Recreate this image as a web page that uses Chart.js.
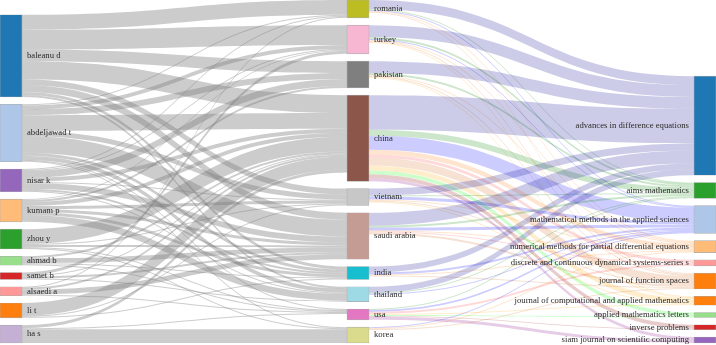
<!DOCTYPE html>
<html>
<head>
<meta charset="utf-8">
<script src="https://cdn.jsdelivr.net/npm/chart.js@4.4.1/dist/chart.umd.min.js"></script>
<style>
  html, body { margin: 0; padding: 0; background: #fff; }
  #wrap { width: 716px; height: 345px; }
</style>
</head>
<body>
<div id="wrap"><canvas id="sankey"></canvas></div>
<script>
// columns of the sankey
const authors = ['baleanu d', 'abdeljawad t', 'nisar k', 'kumam p', 'zhou y',
  'ahmad b', 'samet b', 'alsaedi a', 'li t', 'ha s'];
const countries = ['romania', 'turkey', 'pakistan', 'china', 'vietnam',
  'saudi arabia', 'india', 'thailand', 'usa', 'korea'];
const journals = ['advances in difference equations', 'aims mathematics',
  'mathematical methods in the applied sciences',
  'numerical methods for partial differential equations',
  'discrete and continuous dynamical systems-series s',
  'journal of function spaces', 'journal of computational and applied mathematics',
  'applied mathematics letters', 'inverse problems', 'siam journal on scientific computing'];

// author -> country (rows = authors, cols = countries)
const authorCountry = [
  [15, 20, 12, 18, 6,  7, 3, 2, 0, 0],
  [ 1,  4,  6, 16, 5, 17, 3, 4, 1, 1],
  [ 1,  1,  7,  4, 1,  6, 2, 1, 0, 0],
  [ 0,  1,  2,  4, 3,  3, 3, 7, 0, 0],
  [ 0,  0,  0, 15, 1,  2, 0, 0, 1, 1],
  [ 0,  0,  0,  2, 0,  5, 1, 0, 1, 0],
  [ 0,  3,  0,  1, 0,  2, 0, 1, 0, 0],
  [ 1,  0,  0,  2, 0,  5, 0, 0, 1, 0],
  [ 0,  0,  0, 13, 1,  0, 1, 0, 0, 0],
  [ 0,  0,  0,  3, 0,  0, 0, 0, 1, 14]
];

// country -> journal (rows = countries, cols = journals)
const countryJournal = [
  [ 9, 1,  1, 1, 0, 1, 0, 0, 0, 0],
  [12, 2,  1, 1, 0, 1, 1, 0, 0, 0],
  [12, 2,  0, 1, 0, 1, 1, 0, 0, 0],
  [35, 6, 14, 5, 3, 8, 5, 4, 4, 3],
  [ 7, 1,  3, 1, 0, 1, 1, 0, 0, 0],
  [13, 2,  3, 1, 1, 2, 0, 0, 0, 0],
  [ 6, 0,  2, 1, 0, 1, 0, 0, 0, 0],
  [ 6, 1,  1, 0, 0, 0, 0, 0, 0, 0],
  [ 0, 1,  2, 0, 2, 0, 1, 1, 1, 3],
  [ 0, 0,  1, 1, 0, 1, 0, 0, 0, 0]
];

const authorColors = ['#1f77b4', '#aec7e8', '#9467bd', '#ffbb78', '#2ca02c',
  '#98df8a', '#d62728', '#ff9896', '#ff7f0e', '#c5b0d5'];
const countryColors = ['#bcbd22', '#f7b6d2', '#7f7f7f', '#8c564b', '#c7c7c7',
  '#c49c94', '#17becf', '#9edae5', '#e377c2', '#dbdb8d'];
const journalColors = ['#1f77b4', '#2ca02c', '#aec7e8', '#ffbb78', '#ff9896',
  '#ff7f0e', '#ff7f0e', '#98df8a', '#d62728', '#9467bd'];
const journalLinkColors = ['rgba(0,0,139,0.2)', 'rgba(0,128,0,0.2)', 'rgba(0,0,255,0.2)',
  'rgba(255,127,14,0.2)', 'rgba(255,0,0,0.15)', 'rgba(210,105,30,0.2)',
  'rgba(255,165,0,0.2)', 'rgba(0,255,0,0.2)', 'rgba(139,0,0,0.2)', 'rgba(128,0,128,0.2)'];
const authorLinkColor = 'rgba(128,128,128,0.4)';

// --- layout (value units) ---
const GAP = 7.4;
const sum = a => a.reduce((s, v) => s + v, 0);
const authorVal = authorCountry.map(sum);
const countryIn = countries.map((_, j) => sum(authorCountry.map(r => r[j])));
const countryOut = countryJournal.map(sum);
const countryVal = countries.map((_, j) => Math.max(countryIn[j], countryOut[j]));
const journalVal = journals.map((_, k) => sum(countryJournal.map(r => r[k])));

const columns = [authorVal, countryVal, journalVal];
const totalH = Math.max(...columns.map(c => sum(c) + (c.length - 1) * GAP));

function stack(vals) {
  let y = totalH - (sum(vals) + (vals.length - 1) * GAP);
  return vals.map(v => {
    const n = { y0: y, y1: y + v };
    y += v + GAP;
    return n;
  });
}
const layout = columns.map(stack);
const names = [authors, countries, journals];

// links, offsets at both ends follow node order
function buildLinks(matrix, col, colorFn) {
  const out = [];
  const srcOff = layout[col].map(n => n.y0);
  const dstOff = layout[col + 1].map(n => n.y0);
  const dstStart = [];
  matrix[0].forEach((_, j) => {
    let y = dstOff[j];
    dstStart[j] = matrix.map(r => { const s = y; y += r[j]; return s; });
  });
  matrix.forEach((row, i) => {
    let y = srcOff[i];
    row.forEach((v, j) => {
      if (v > 0) out.push({ col, s0: y, t0: dstStart[j][i], v, color: colorFn(i, j) });
      y += v;
    });
  });
  return out;
}
const links = buildLinks(authorCountry, 0, () => authorLinkColor)
  .concat(buildLinks(countryJournal, 1, (i, j) => journalLinkColors[j]));

const nodeData = [];
layout.forEach((col, c) => col.forEach(n => nodeData.push({ x: c, y: [n.y0, n.y1] })));
const nodeColors = authorColors.concat(countryColors, journalColors);

const sankeyPlugin = {
  id: 'sankeyLinks',
  beforeDatasetsDraw(chart) {
    const { ctx, scales: { x, y } } = chart;
    const half = chart.getDatasetMeta(0).data[0].width / 2;
    ctx.save();
    links.forEach(l => {
      const x0 = x.getPixelForValue(l.col) + half;
      const x1 = x.getPixelForValue(l.col + 1) - half;
      const xm = (x0 + x1) / 2;
      const a0 = y.getPixelForValue(l.s0), a1 = y.getPixelForValue(l.s0 + l.v);
      const b0 = y.getPixelForValue(l.t0), b1 = y.getPixelForValue(l.t0 + l.v);
      ctx.beginPath();
      ctx.moveTo(x0, a0);
      ctx.bezierCurveTo(xm, a0, xm, b0, x1, b0);
      ctx.lineTo(x1, b1);
      ctx.bezierCurveTo(xm, b1, xm, a1, x0, a1);
      ctx.closePath();
      ctx.fillStyle = l.color;
      ctx.fill();
    });
    ctx.restore();
  },
  afterDatasetsDraw(chart) {
    const { ctx, scales: { x, y } } = chart;
    const half = chart.getDatasetMeta(0).data[0].width / 2;
    ctx.save();
    ctx.font = '8.7px "Liberation Serif", serif';
    ctx.fillStyle = '#2a2a2a';
    ctx.textBaseline = 'middle';
    layout.forEach((col, c) => col.forEach((n, i) => {
      const cy = y.getPixelForValue((n.y0 + n.y1) / 2);
      if (c < 2) {
        ctx.textAlign = 'left';
        ctx.fillText(names[c][i], x.getPixelForValue(c) + half + 5, cy);
      } else {
        ctx.textAlign = 'right';
        ctx.fillText(names[c][i], x.getPixelForValue(c) - half - 5, cy);
      }
    }));
    ctx.restore();
  }
};

new Chart(document.getElementById('sankey'), {
  type: 'bar',
  data: {
    datasets: [{
      data: nodeData,
      backgroundColor: nodeColors,
      borderColor: 'rgba(68,68,68,0.45)',
      borderWidth: 0.6,
      borderSkipped: false,
      barThickness: 22,
      clip: false
    }]
  },
  options: {
    responsive: true,
    maintainAspectRatio: false,
    animation: false,
    layout: { padding: { left: 11, right: 11, top: 0, bottom: 2 } },
    plugins: { legend: { display: false }, tooltip: { enabled: false } },
    scales: {
      x: { type: 'linear', min: 0, max: 2, offset: false, grid: { offset: false }, display: false },
      y: { type: 'linear', min: 0, max: totalH, reverse: true, display: false }
    }
  },
  plugins: [sankeyPlugin]
});
</script>
</body>
</html>
